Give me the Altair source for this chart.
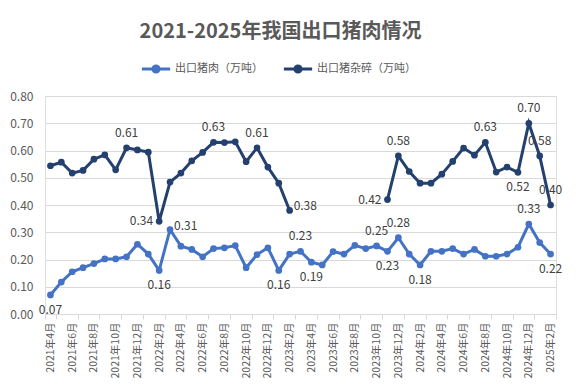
import altair as alt
import pandas as pd

months = [
    "2021年4月", "2021年5月", "2021年6月", "2021年7月", "2021年8月", "2021年9月",
    "2021年10月", "2021年11月", "2021年12月",
    "2022年1月", "2022年2月", "2022年3月", "2022年4月", "2022年5月", "2022年6月",
    "2022年7月", "2022年8月", "2022年9月", "2022年10月", "2022年11月", "2022年12月",
    "2023年1月", "2023年2月", "2023年3月", "2023年4月", "2023年5月", "2023年6月",
    "2023年7月", "2023年8月", "2023年9月", "2023年10月", "2023年11月", "2023年12月",
    "2024年1月", "2024年2月", "2024年3月", "2024年4月", "2024年5月", "2024年6月",
    "2024年7月", "2024年8月", "2024年9月", "2024年10月", "2024年11月", "2024年12月",
    "2025年1月", "2025年2月",
]

pork = [
    0.07, 0.117, 0.155, 0.17, 0.185, 0.202, 0.202, 0.21, 0.256,
    0.22, 0.16, 0.31, 0.249, 0.237, 0.21, 0.24, 0.243, 0.251, 0.17, 0.218, 0.243,
    0.16, 0.22, 0.23, 0.19, 0.18, 0.229, 0.22, 0.252, 0.24, 0.25, 0.23, 0.28,
    0.22, 0.18, 0.23, 0.23, 0.24, 0.22, 0.237, 0.212, 0.212, 0.22, 0.245, 0.33,
    0.262, 0.22,
]

offal = [
    0.544, 0.557, 0.517, 0.527, 0.568, 0.584, 0.529, 0.61, 0.602,
    0.594, 0.34, 0.484, 0.517, 0.562, 0.593, 0.63, 0.629, 0.632, 0.559, 0.61, 0.539,
    0.48, 0.38, None, None, None, None, None, None, None, None, 0.42, 0.58,
    0.523, 0.48, 0.48, 0.513, 0.56, 0.609, 0.583, 0.63, 0.521, 0.539, 0.52, 0.70,
    0.58, 0.40,
]

series_names = ["出口猪肉（万吨）", "出口猪杂碎（万吨）"]
series_colors = ["#4472C4", "#24406F"]

# which points carry a data label, and on which side
pork_labels = {0: "below", 10: "below", 11: "right", 21: "below", 23: "above",
               24: "below", 30: "above", 31: "below", 32: "above", 34: "below",
               44: "above", 46: "below"}
offal_labels = {7: "above", 10: "left", 15: "above", 19: "above", 22: "right",
                31: "left", 32: "above", 40: "above", 43: "below", 44: "above",
                45: "above", 46: "above"}

rows = []
for name, vals, labs in [(series_names[0], pork, pork_labels),
                         (series_names[1], offal, offal_labels)]:
    seg = 0
    prev_none = False
    for i, (m, v) in enumerate(zip(months, vals)):
        if v is None:
            prev_none = True
            continue
        if prev_none:
            seg += 1
            prev_none = False
        rows.append({"month": m, "value": v, "series": name,
                     "seg": f"{name}-{seg}", "pos": labs.get(i, "")})
df = pd.DataFrame(rows)

FONT = "Noto Sans CJK SC"

x_enc = alt.X(
    "month:O", sort=months, bandPosition=0.5, title=None,
    scale=alt.Scale(type="band", paddingInner=0, paddingOuter=0),
    axis=alt.Axis(values=months[::2], labelAngle=270, tickBand="extent",
                  domainColor="#D9D9D9", tickColor="#D9D9D9", tickSize=5,
                  labelColor="#595959", labelFontSize=10.5, labelFont=FONT,
                  labelPadding=3, grid=False),
)
y_enc = alt.Y(
    "value:Q", title=None,
    scale=alt.Scale(domain=[0, 0.8], nice=False),
    axis=alt.Axis(values=[0, 0.1, 0.2, 0.3, 0.4, 0.5, 0.6, 0.7, 0.8], format=".2f",
                  domain=False, ticks=False, grid=True, gridColor="#D9D9D9",
                  labelColor="#595959", labelFontSize=12, labelFont=FONT,
                  labelPadding=12),
)
color_enc = alt.Color(
    "series:N", title=None,
    scale=alt.Scale(domain=series_names, range=series_colors),
    legend=alt.Legend(
        orient="none", legendX=95, legendY=-43, direction="horizontal",
        gridAlign="none",
        symbolType="M-1,0L1,0M-0.22,0A0.22,0.22 0 1,0 0.22,0A0.22,0.22 0 1,0 -0.22,0Z",
        symbolSize=800, symbolStrokeWidth=3, labelFont=FONT, labelFontSize=11,
        labelColor="#595959", columnPadding=14, labelOffset=3, padding=0,
    ),
)

base = alt.Chart(df)

lines = base.mark_line(strokeWidth=3).encode(
    x=x_enc, y=y_enc, color=color_enc, detail="seg:N")
points = base.mark_point(filled=True, size=45, opacity=1).encode(
    x=x_enc, y=y_enc, color=color_enc)

def text_layer(pos, **kw):
    return base.transform_filter(alt.datum.pos == pos).mark_text(
        font=FONT, fontSize=12, color="#404040", **kw
    ).encode(x=x_enc, y=y_enc, text=alt.Text("value:Q", format=".2f"))

labels = [
    text_layer("above", dy=-15, baseline="middle", align="center"),
    text_layer("below", dy=15, baseline="middle", align="center"),
    text_layer("left", dx=-6, baseline="middle", align="right"),
    text_layer("right", dx=4, dy=-4, baseline="middle", align="left"),
]

chart = alt.layer(lines, points, *labels).properties(
    width=511, height=218,
    autosize=alt.AutoSizeParams(type="none"),
    padding={"left": 37, "top": 88, "right": 15, "bottom": 66},
    title=alt.TitleParams("2021-2025年我国出口猪肉情况", font=FONT, fontSize=20,
                          fontWeight="bold", color="#595959", anchor="middle",
                          dx=-20, offset=11),
).configure_view(stroke=None).configure(background="white")

chart.save("out.html", embed_options={"renderer": "svg", "actions": False})
